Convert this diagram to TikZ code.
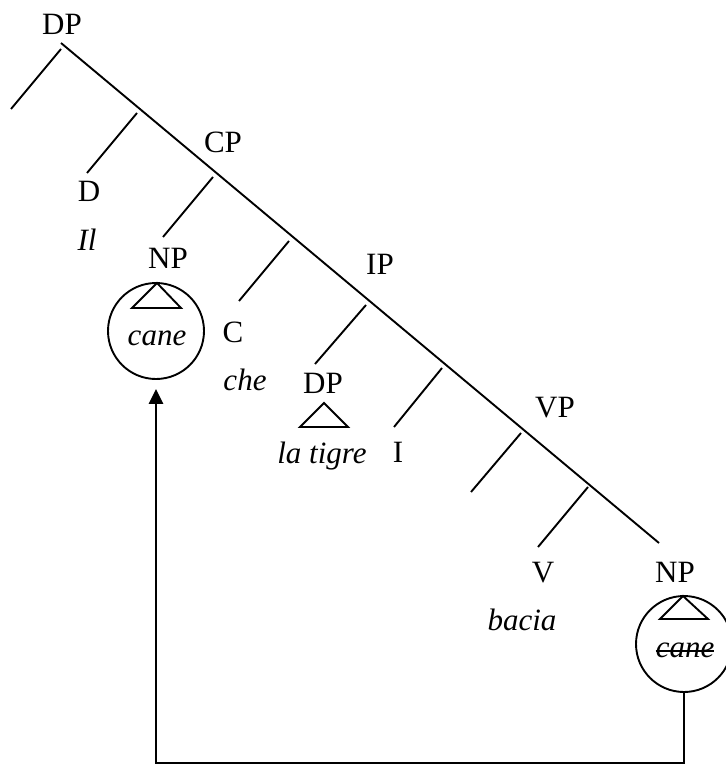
\documentclass[tikz,border=0pt]{standalone}
\usepackage{fontspec}
\setmainfont{Liberation Serif}
\usetikzlibrary{arrows.meta}
\begin{document}
\begin{tikzpicture}[x=1pt,y=-1pt,
  branch/.style={line width=1.9pt},
  lbl/.style={inner sep=0pt,anchor=base,font=\fontsize{31}{37}\selectfont},
  word/.style={lbl,font=\fontsize{31}{37}\selectfont\itshape},
  ring/.style={draw,circle,line width=1.9pt,minimum size=96pt,inner sep=0pt},
  tri/.style={line width=1.9pt},
  move/.style={line width=2.8pt}]
\useasboundingbox (0,0) rectangle (725,767);

% labels
\node[lbl] (dp0) at (62,35) {DP};
\node[lbl] (d) at (89,202) {D};
\node[word] (il) at (87,250) {Il};
\node[lbl] (cp) at (223,153) {CP};
\node[lbl] (np1) at (168,268) {NP};
\node[lbl] (c) at (233,342) {C};
\node[word] (che) at (245,390) {che};
\node[lbl] (ip) at (380,274) {IP};
\node[lbl] (dp1) at (323,393) {DP};
\node[word] (tigre) at (322,463) {la tigre};
\node[lbl] (i) at (398,462) {I};
\node[lbl] (vp) at (555,417) {VP};
\node[lbl] (v) at (543,582) {V};
\node[lbl] (np2) at (675,582) {NP};
\node[word] (bacia) at (522,630) {bacia};

% spine
\coordinate (s0) at (61,43);
\coordinate (s1) at (659,543);
\draw[branch] (s0) -- (s1);

% side branches
\coordinate (a0) at (61,49);  \coordinate (a1) at (11,109);
\coordinate (b0) at (137,113); \coordinate (b1) at (87,173);
\coordinate (e0) at (213,177); \coordinate (e1) at (163,237);
\coordinate (f0) at (289,241); \coordinate (f1) at (239,301);
\coordinate (g0) at (366,305); \coordinate (g1) at (315,364);
\coordinate (h0) at (442,368); \coordinate (h1) at (394,427);
\coordinate (k0) at (521,433); \coordinate (k1) at (471,492);
\coordinate (m0) at (588,487); \coordinate (m1) at (538,547);
\foreach \p in {a,b,e,f,g,h,k,m} \draw[branch] (\p0) -- (\p1);

% triangle under the embedded DP
\coordinate (t0) at (324,403); \coordinate (t1) at (300,427); \coordinate (t2) at (348,427);
\draw[tri] (t0) -- (t1) -- (t2) -- cycle;

% circled NP (landing site)
\node[ring] (o1) at (156,331) {};
\node[word] (cane1) at (157,345) {cane};
\coordinate (u0) at (157,283); \coordinate (u1) at (132,308); \coordinate (u2) at (181,308);
\draw[tri] (u0) -- (u1) -- (u2) -- cycle;

% circled NP (trace, struck out)
\node[ring] (o2) at (684,644) {};
\node[word] (cane2) at (685,657) {cane};
\draw[line width=1.4pt] ([yshift=6pt]cane2.base west) -- ([yshift=6pt]cane2.base east);
\coordinate (w0) at (683,596); \coordinate (w1) at (660,619); \coordinate (w2) at (708,619);
\draw[tri] (w0) -- (w1) -- (w2) -- cycle;

% movement arrow
\coordinate (corner1) at (o2.south |- 0,763);
\coordinate (corner2) at (o1.south |- 0,763);
\draw[move,-{Triangle[length=15pt,width=14pt]}] (o2.south) -- (corner1) -- (corner2) -- ([yshift=-9pt]o1.south);
\end{tikzpicture}
\end{document}
